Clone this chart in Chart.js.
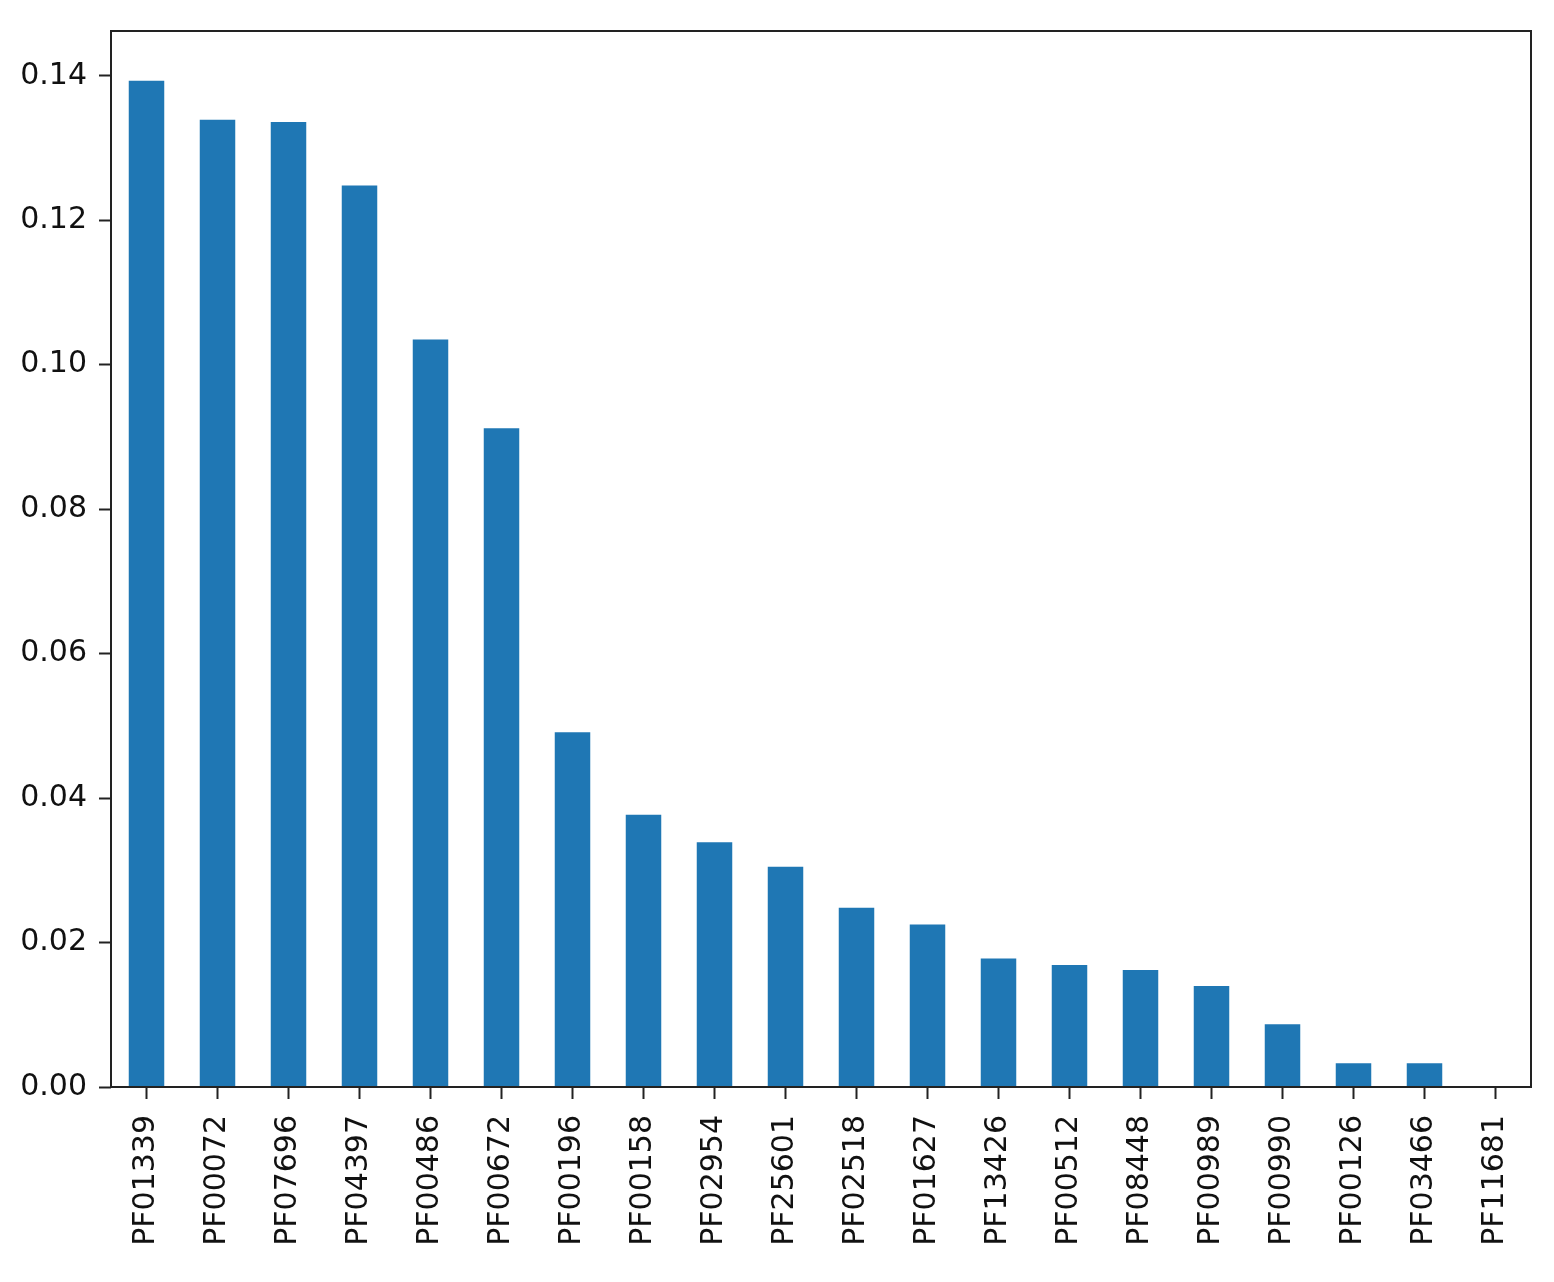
<!DOCTYPE html>
<html>
<head>
<meta charset="utf-8">
<script src="https://cdn.jsdelivr.net/npm/chart.js@4.4.1/dist/chart.umd.min.js"></script>
<style>
  html, body { margin: 0; padding: 0; background: #fff; }
  #wrap { width: 1554px; height: 1282px; }
</style>
</head>
<body>
<div id="wrap"><canvas id="chart" width="1554" height="1282"></canvas></div>
<script>
const domains = ['PF01339', 'PF00072', 'PF07696', 'PF04397', 'PF00486', 'PF00672', 'PF00196',
  'PF00158', 'PF02954', 'PF25601', 'PF02518', 'PF01627', 'PF13426', 'PF00512', 'PF08448',
  'PF00989', 'PF00990', 'PF00126', 'PF03466', 'PF11681'];
const importance = [0.1393, 0.1339, 0.1336, 0.1248, 0.1035, 0.0912, 0.0491,
  0.0377, 0.0339, 0.0305, 0.0248, 0.0225, 0.0178, 0.0169, 0.0162,
  0.0140, 0.0087, 0.0033, 0.0033, 0.0];
const yMax = 0.1462;
const yStep = 0.02;

const FONT = { family: 'DejaVu Sans', size: 30 };

// box around the plot area, like matplotlib's spines
const frame = {
  id: 'frame',
  afterDraw(chart) {
    const { ctx, chartArea: a } = chart;
    ctx.save();
    ctx.strokeStyle = '#222';
    ctx.lineWidth = 2;
    ctx.strokeRect(a.left, a.top, a.right - a.left, a.bottom - a.top);
    ctx.restore();
  }
};

new Chart(document.getElementById('chart'), {
  type: 'bar',
  data: {
    labels: domains,
    datasets: [{ data: importance, backgroundColor: '#1f77b4', barPercentage: 0.5, categoryPercentage: 1.0 }]
  },
  options: {
    responsive: false,
    animation: false,
    layout: { padding: { top: 31, right: 23, left: 0, bottom: 0 } },
    plugins: { legend: { display: false }, tooltip: { enabled: false } },
    scales: {
      x: {
        offset: true,
        grid: { offset: false, drawOnChartArea: false, tickLength: 12, color: '#222', tickWidth: 2 },
        border: { display: false },
        ticks: { color: '#111', font: FONT, minRotation: 90, maxRotation: 90, padding: 16, autoSkip: false },
        afterFit(s) { s.height = 1282 - 1087; }
      },
      y: {
        min: 0,
        max: yMax,
        grid: { drawOnChartArea: false, tickLength: 12, color: '#222', tickWidth: 2 },
        border: { display: false },
        ticks: { color: '#111', font: FONT, stepSize: yStep, padding: 12, callback: v => v.toFixed(2) },
        afterBuildTicks(s) {
          s.ticks = s.ticks.filter(t => Math.abs(t.value / yStep - Math.round(t.value / yStep)) < 1e-6);
        },
        afterFit(s) { s.width = 111; }
      }
    }
  },
  plugins: [frame]
});
</script>
</body>
</html>
